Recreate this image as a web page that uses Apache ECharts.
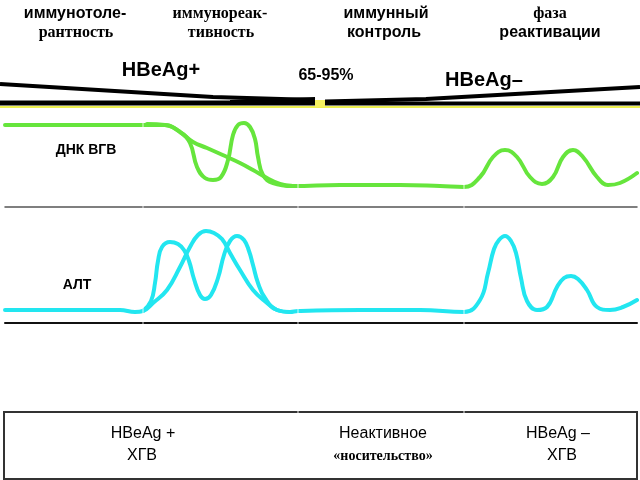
<!DOCTYPE html>
<html>
<head>
<meta charset="utf-8">
<script src="https://cdn.jsdelivr.net/npm/echarts@6/dist/echarts.min.js"></script>
<style>html,body{margin:0;padding:0;background:#fff}#c{width:640px;height:480px}</style>
</head>
<body>
<div id="c"></div>
<script>
// Phase headers (two lines each)
const phaseLine1 = ['иммунотоле-', 'иммунореак-', 'иммунный', 'фаза'];
const phaseLine2 = ['рантность', 'тивность', 'контроль', 'реактивации'];
const statusLabels = ['HBeAg+', '65-95%', 'HBeAg–'];
const rowLabels = ['ДНК ВГВ', 'АЛТ'];
const boxLine1 = ['HBeAg +', 'Неактивное', 'HBeAg –'];
const boxLine2 = ['ХГВ', '«носительство»', 'ХГВ'];

// HBV DNA level (time, level)
const dnaMain = [[5,82],[60,82],[143,82],[165,82],[180,75],[193,65],[207,59],[227,50],[240,44],[253,37],[267,29],[280,23],[293,21],[340,22],[400,22],[440,21],[464,20],[480,30],[493,50],[505,57],[517,50],[530,30],[542,23],[553,30],[563,50],[573,57],[583,50],[597,30],[608,22],[620,24],[637,34]];
const dnaFlare = [[147,83],[165,82],[180,75],[190,64],[197,40],[205,29],[213,27],[221,30],[228,47],[233,72],[238,82],[244,84],[250,80],[255,68],[258,50],[263,32],[273,24],[293,21]];

// ALT level (time, level)
const altMain = [[5,13],[60,13],[120,13],[135,11],[143,12],[153,20],[167,33],[180,56],[190,76],[198,88],[206,92],[214,90],[222,84],[230,70],[240,53],[253,33],[267,20],[277,13],[290,11],[298,12],[360,13],[420,13],[464,11],[480,23],[488,50],[494,74],[499,83],[505,87],[511,82],[516,70],[521,45],[527,22],[537,13],[547,16],[557,36],[564,45],[571,47],[578,44],[587,33],[597,16],[610,13],[623,16],[637,23]];
const altFlare = [[143,12],[151,22],[155,40],[158,62],[162,76],[170,81],[178,79],[184,73],[189,62],[194,44],[200,28],[205,24],[211,28],[218,45],[224,68],[230,82],[237,87],[244,83],[249,72],[253,58],[258,40],[265,25],[277,13],[290,11]];

const GREEN = '#66e53c';
const CYAN = '#22e6f0';
const SANS = '"Liberation Sans", Arial, sans-serif';
const SERIF = '"Liberation Serif", "Times New Roman", serif';

const chart = echarts.init(document.getElementById('c'), null, {renderer: 'canvas'});

function txt(t, x, y, font) {
  return {type: 'text', z: 50, style: {text: t, x: x, y: y, font: font, fill: '#000', align: 'center', verticalAlign: 'middle'}};
}

const graphics = [];
// headers
const hx1 = [75, 220, 386, 550];
const hx2 = [76, 221, 384, 550];
const hf1 = ['bold 16px ' + SANS, 'bold 16px ' + SERIF, 'bold 16px ' + SANS, 'bold 16px ' + SERIF];
const hf2 = ['bold 16px ' + SERIF, 'bold 16px ' + SERIF, 'bold 16px ' + SANS, 'bold 16px ' + SANS];
for (let i = 0; i < 4; i++) {
  graphics.push(txt(phaseLine1[i], hx1[i], 14, hf1[i]));
  graphics.push(txt(phaseLine2[i], hx2[i], 33, hf2[i]));
}
graphics.push(txt(statusLabels[0], 161, 70, 'bold 20px ' + SANS));
graphics.push(txt(statusLabels[1], 326, 76, 'bold 16px ' + SANS));
graphics.push(txt(statusLabels[2], 484, 80, 'bold 20px ' + SANS));
graphics.push(txt(rowLabels[0], 86, 150, 'bold 14px ' + SANS));
graphics.push(txt(rowLabels[1], 77, 285, 'bold 14px ' + SANS));

// wedge lines
graphics.push({type: 'polyline', z: 10, shape: {points: [[0,84],[213,97],[315,100]]}, style: {stroke: '#000', lineWidth: 4, fill: null}});
graphics.push({type: 'polygon', z: 10, shape: {points: [[230,100],[315,97],[315,105],[230,105]]}, style: {fill: '#000'}});
graphics.push({type: 'line', z: 10, shape: {x1: 0, y1: 103, x2: 315, y2: 103}, style: {stroke: '#000', lineWidth: 5}});
graphics.push({type: 'polyline', z: 10, shape: {points: [[325,101.5],[426,99],[640,87]]}, style: {stroke: '#000', lineWidth: 4, fill: null}});
graphics.push({type: 'line', z: 10, shape: {x1: 325, y1: 103.5, x2: 640, y2: 103.5}, style: {stroke: '#000', lineWidth: 4}});
graphics.push({type: 'line', z: 9, shape: {x1: 0, y1: 107, x2: 640, y2: 107}, style: {stroke: '#eef050', lineWidth: 2}});
graphics.push({type: 'rect', z: 9, shape: {x: 315, y: 100, width: 10, height: 7}, style: {fill: '#f4f060'}});

// bottom box
graphics.push({type: 'rect', z: 10, shape: {x: 4, y: 412, width: 633, height: 67}, style: {stroke: '#333', lineWidth: 2, fill: null}});
const bx1 = [143, 383, 558];
const bx2 = [142, 383, 562];
graphics.push(txt(boxLine1[0], bx1[0], 434, '16px ' + SANS));
graphics.push(txt(boxLine2[0], bx2[0], 456, '16px ' + SANS));
graphics.push(txt(boxLine1[1], bx1[1], 434, '16px ' + SANS));
graphics.push(txt(boxLine2[1], bx2[1], 456, 'bold 14px ' + SERIF));
graphics.push(txt(boxLine1[2], bx1[2], 434, '16px ' + SANS));
graphics.push(txt(boxLine2[2], bx2[2], 456, '16px ' + SANS));

// white seams between picture pieces
[143, 298, 464].forEach(function (x) {
  graphics.push({type: 'line', z: 100, shape: {x1: x, y1: 108, x2: x, y2: 330}, style: {stroke: 'rgba(255,255,255,0.8)', lineWidth: 1}});
});
[298, 464].forEach(function (x) {
  graphics.push({type: 'line', z: 100, shape: {x1: x, y1: 410, x2: x, y2: 414}, style: {stroke: 'rgba(255,255,255,0.9)', lineWidth: 1}});
});

const lineStyleBase = {width: 4, cap: 'round', join: 'round'};
const SM = 0.45;
chart.setOption({
  animation: false,
  backgroundColor: '#fff',
  grid: [
    {left: 5, right: 3, top: 107, height: 100},
    {left: 5, right: 3, top: 207, height: 116}
  ],
  xAxis: [
    {gridIndex: 0, type: 'value', min: 5, max: 637, axisLine: {show: true, lineStyle: {color: '#555', width: 1.5}}, axisTick: {show: false}, axisLabel: {show: false}, splitLine: {show: false}},
    {gridIndex: 1, type: 'value', min: 5, max: 637, axisLine: {show: true, lineStyle: {color: '#111', width: 2}}, axisTick: {show: false}, axisLabel: {show: false}, splitLine: {show: false}}
  ],
  yAxis: [
    {gridIndex: 0, type: 'value', min: 0, max: 100, show: false},
    {gridIndex: 1, type: 'value', min: 0, max: 116, show: false}
  ],
  series: [
    {type: 'line', xAxisIndex: 0, yAxisIndex: 0, data: dnaMain, smooth: SM, symbol: 'none', lineStyle: Object.assign({color: GREEN}, lineStyleBase)},
    {type: 'line', xAxisIndex: 0, yAxisIndex: 0, data: dnaFlare, smooth: SM, symbol: 'none', lineStyle: Object.assign({color: GREEN}, lineStyleBase)},
    {type: 'line', xAxisIndex: 1, yAxisIndex: 1, data: altMain, smooth: SM, symbol: 'none', lineStyle: Object.assign({color: CYAN}, lineStyleBase)},
    {type: 'line', xAxisIndex: 1, yAxisIndex: 1, data: altFlare, smooth: SM, symbol: 'none', lineStyle: Object.assign({color: CYAN}, lineStyleBase)}
  ],
  graphic: graphics
});
</script>
</body>
</html>
